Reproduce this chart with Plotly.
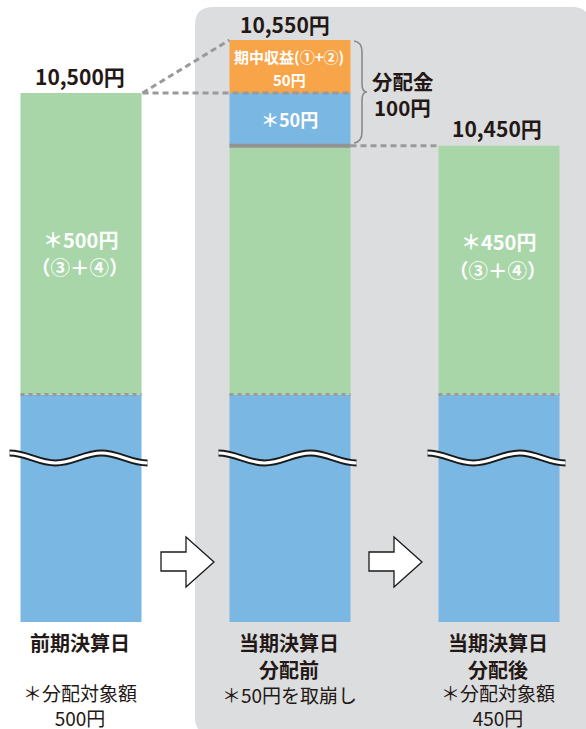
import plotly.graph_objects as go

# ---------------- data ----------------
categories = ["前期決算日", "当期決算日<br>分配前", "当期決算日<br>分配後"]
notes = ["＊分配対象額<br>500円", "＊50円を取崩し", "＊分配対象額<br>450円"]
nav_values = [10500, 10550, 10450]                 # 基準価額
nav_labels = ["10,500円", "10,550円", "10,450円"]
distributable_labels = ["＊500円<br>（③＋④）", "", "＊450円<br>（③＋④）"]
income = 50          # 期中収益(①+②)
drawdown = 50        # 分配対象額からの取崩し
distribution = income + drawdown   # 分配金 100円
base_level = 10000   # 棒の下端（省略部分）
break_level = 10215  # 省略線（波線上の点線）の位置

green_top = [nav_values[0], nav_values[1] - income - drawdown, nav_values[2]]

# ---------------- style ----------------
W, H = 586, 729
BLUE = "#7BB7E3"
GREEN = "#A8D6A8"
ORANGE = "#F8A54A"
BG = "#DCDDDF"
DASH = "#9A9A9A"
TXT = "#231815"
FONT = "Noto Sans CJK JP"

BAR_W = 121 / 209
X0_PX, STEP_PX = 81, 209
S = 582 / 550   # px per yen
Y_BOTTOM_PX = 622


def px(x):
    return x / W


def py(y):
    return 1 - y / H


def bar_px(i):
    return X0_PX + STEP_PX * i


xs = list(range(len(categories)))

fig = go.Figure()
fig.add_trace(go.Bar(x=xs, y=[break_level - base_level] * 3, base=[base_level] * 3,
                     width=BAR_W, marker=dict(color=BLUE, line=dict(width=0)), hoverinfo="skip"))
fig.add_trace(go.Bar(x=xs, y=[g - break_level for g in green_top], base=[break_level] * 3,
                     width=BAR_W, marker=dict(color=GREEN, line=dict(width=0)), hoverinfo="skip"))
fig.add_trace(go.Bar(x=[1], y=[drawdown], base=[green_top[1]],
                     width=BAR_W, marker=dict(color=BLUE, line=dict(width=0)), hoverinfo="skip"))
fig.add_trace(go.Bar(x=[1], y=[income], base=[green_top[1] + drawdown],
                     width=BAR_W, marker=dict(color=ORANGE, line=dict(width=0)), hoverinfo="skip"))

shapes = []

# rounded grey background panel
L, R, T, B, r = 195, 590, 7, 735, 18
bg_path = (f"M {px(L + r)},{py(T)} L {px(R - r)},{py(T)} Q {px(R)},{py(T)} {px(R)},{py(T + r)} "
           f"L {px(R)},{py(B - r)} Q {px(R)},{py(B)} {px(R - r)},{py(B)} "
           f"L {px(L + r)},{py(B)} Q {px(L)},{py(B)} {px(L)},{py(B - r)} "
           f"L {px(L)},{py(T + r)} Q {px(L)},{py(T)} {px(L + r)},{py(T)} Z")
shapes.append(dict(type="path", xref="paper", yref="paper", path=bg_path,
                   fillcolor=BG, line=dict(width=0), layer="below"))

hw = BAR_W / 2
# grey separator line in bar 2
shapes.append(dict(type="line", xref="x", yref="y", x0=1 - hw, x1=1 + hw,
                   y0=green_top[1], y1=green_top[1], line=dict(color="#939393", width=4)))
# connectors
shapes.append(dict(type="line", xref="x", yref="y", x0=0 + hw + 0.005, x1=1 - hw,
                   y0=nav_values[0], y1=nav_values[1], line=dict(color=DASH, width=3, dash="6px,4px")))
shapes.append(dict(type="line", xref="x", yref="y", x0=0 + hw + 0.005, x1=1 + hw,
                   y0=nav_values[0], y1=nav_values[0], line=dict(color=DASH, width=3, dash="6px,4px")))
shapes.append(dict(type="line", xref="x", yref="y", x0=1 + hw, x1=2 - hw,
                   y0=nav_values[2], y1=nav_values[2], line=dict(color=DASH, width=3, dash="6px,4px")))
# dotted break lines
for i in xs:
    shapes.append(dict(type="line", xref="x", yref="y", x0=i - hw, x1=i + hw,
                       y0=break_level, y1=break_level, line=dict(color=DASH, width=3, dash="4px,4px")))

# wavy break marks
yc, A, hp = 458, 5, 46
k = 17
for i in xs:
    x0 = bar_px(i) - 60.5 - 11
    d = f"M {px(x0)},{py(yc - A)}"
    ycur = yc - A
    for j in range(3):
        xa = x0 + hp * j
        xb = xa + hp
        ynext = yc + A if ycur == yc - A else yc - A
        d += f" C {px(xa + k)},{py(ycur)} {px(xb - k)},{py(ynext)} {px(xb)},{py(ynext)}"
        ycur = ynext
    shapes.append(dict(type="path", xref="paper", yref="paper", path=d,
                       line=dict(color="#1a1a1a", width=7)))
    shapes.append(dict(type="path", xref="paper", yref="paper", path=d,
                       line=dict(color="white", width=3)))

# hollow arrows
for i in range(2):
    dx = 208 * i
    pts = [(161, 552), (186, 552), (186, 537), (214, 562), (186, 587), (186, 571), (161, 571)]
    d = "M " + " L ".join(f"{px(x + dx)},{py(y)}" for x, y in pts) + " Z"
    shapes.append(dict(type="path", xref="paper", yref="paper", path=d,
                       fillcolor="white", line=dict(color="#1a1a1a", width=1.3)))

# brace
brace = (f"M {px(354)},{py(41)} Q {px(362)},{py(42)} {px(362)},{py(52)} "
         f"L {px(362)},{py(84)} Q {px(362)},{py(92)} {px(367)},{py(92)} "
         f"Q {px(362)},{py(92)} {px(362)},{py(100)} "
         f"L {px(362)},{py(132)} Q {px(362)},{py(142)} {px(354)},{py(143)}")
shapes.append(dict(type="path", xref="paper", yref="paper", path=brace,
                   line=dict(color="#8a8a8a", width=1.6)))

ann = []


def text(x, y, s, size, color=TXT, bold=False):
    ann.append(dict(x=px(x), y=py(y), xref="paper", yref="paper", text=s, showarrow=False,
                    xanchor="center", yanchor="middle", borderpad=0,
                    font=dict(family=FONT, size=size, color=color, weight="bold" if bold else "normal")))


# NAV labels
text(80, 76, nav_labels[0], 21, bold=True)
text(285, 24, nav_labels[1], 21, bold=True)
text(497, 128, nav_labels[2], 21, bold=True)
# distribution
text(403, 81, "分配金", 20.5, bold=True)
text(402, 107, f"{distribution}円", 20.5, bold=True)
# inside bar 2
text(289, 56, "期中収益(①+②)", 15, color="white", bold=True)
text(289, 79, f"{income}円", 15, color="white", bold=True)
text(289, 119, f"＊{drawdown}円", 18, color="white", bold=True)
# green labels
for i, yy in [(0, 252), (2, 255)]:
    lines = distributable_labels[i].split("<br>")
    text(bar_px(i) - 1, yy - 13, lines[0], 20, color="white", bold=True)
    text(bar_px(i) - 1, yy + 14, lines[1], 19.5, color="white", bold=True)
# category labels
for i in xs:
    lines = categories[i].split("<br>")
    for j, s in enumerate(lines):
        text(bar_px(i) - 1, 642 + 27 * j, s, 20, bold=True)
# notes (one block per bar)
for i in xs:
    n_lines = len(notes[i].split("<br>"))
    yy = 705 if n_lines > 1 else 694
    text(bar_px(i) - 1, yy, notes[i], 19)

y_lo = base_level - (H - Y_BOTTOM_PX) / S
y_hi = base_level + Y_BOTTOM_PX / S
fig.update_layout(
    width=W, height=H, margin=dict(l=0, r=0, t=0, b=0),
    paper_bgcolor="white", plot_bgcolor="rgba(0,0,0,0)",
    barmode="overlay", showlegend=False,
    xaxis=dict(range=[-X0_PX / STEP_PX, (W - X0_PX) / STEP_PX], visible=False, fixedrange=True),
    yaxis=dict(range=[y_lo, y_hi], visible=False, fixedrange=True),
    shapes=shapes, annotations=ann,
)
fig.write_html("out.html", config={"displayModeBar": False},
               post_script="document.body.style.margin='0';document.body.style.overflow='hidden';")
